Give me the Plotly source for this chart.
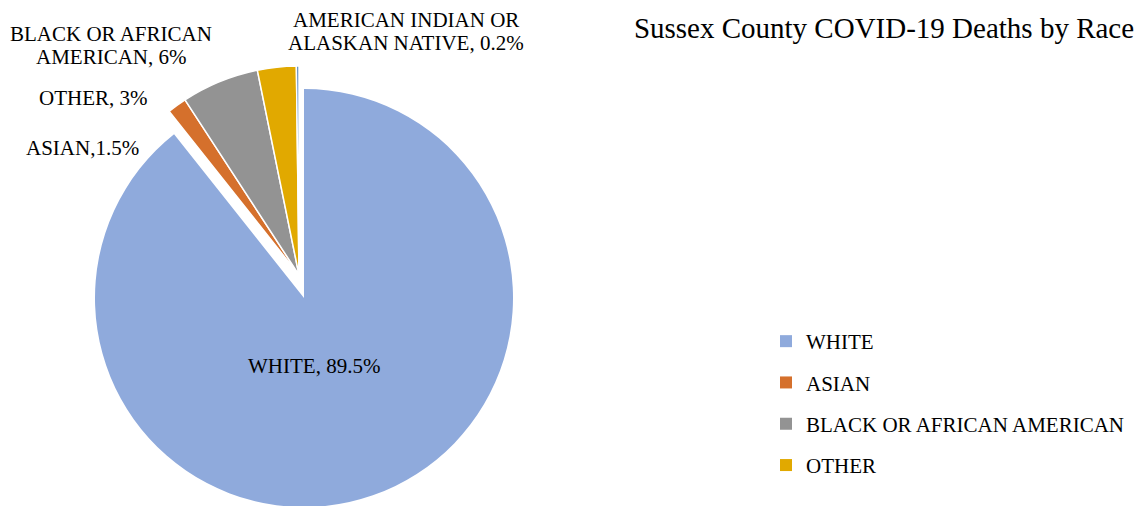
import plotly.graph_objects as go

# ---- data ----
labels = ["WHITE", "ASIAN", "BLACK OR AFRICAN AMERICAN", "OTHER",
          "AMERICAN INDIAN OR ALASKAN NATIVE"]
values = [89.5, 1.5, 6, 3, 0.2]
colors = ["#8FAADC", "#D5702C", "#939393", "#E1A900", "#4F81BD"]
legend_labels = ["WHITE", "ASIAN", "BLACK OR AFRICAN AMERICAN", "OTHER"]
title_text = "Sussex County COVID-19 Deaths by Race"
slice_texts = ["WHITE, 89.5%", "ASIAN,1.5%", "BLACK OR AFRICAN<br>AMERICAN, 6%",
               "OTHER, 3%", "AMERICAN INDIAN OR<br>ALASKAN NATIVE, 0.2%"]

W, H = 1147, 506
OFF = 8  # page body margin
FONT = "Liberation Serif, Times New Roman, serif"
clear = "rgba(0,0,0,0)"


def px(x):
    return (x - OFF) / W


def py(y):
    return 1 - (y - OFF) / H


def dom(cx, cy, r):
    return dict(x=[px(cx - r), px(cx + r)], y=[py(cy + r), py(cy - r)])


fig = go.Figure()

# main (large) slice
fig.add_trace(go.Pie(
    labels=labels, values=values, sort=False, direction="clockwise", rotation=0,
    marker=dict(colors=[colors[0]] + [clear] * 4, line=dict(width=0)),
    textinfo="none", hoverinfo="label+percent", showlegend=False,
    domain=dom(304, 298, 209),
))
# exploded small slices
fig.add_trace(go.Pie(
    labels=labels, values=values, sort=False, direction="clockwise", rotation=0,
    marker=dict(colors=[clear] + colors[1:],
                line=dict(color=[clear] + ["white"] * 4, width=1.5)),
    textinfo="none", hoverinfo="label+percent", showlegend=False,
    domain=dom(299, 275, 209),
))

# legend entries
for i, lab in enumerate(legend_labels):
    fig.add_trace(go.Scatter(
        x=[None], y=[None], mode="markers", name=lab, legendgroup=lab,
        marker=dict(symbol="square", size=12, color=colors[i]),
    ))

# slice labels (one annotation per text line)
label_x = [314, 82, 111, 94, 406]
label_line_y = [[366], [148], [34, 57.5], [98], [20.5, 43]]
for x, ys, t in zip(label_x, label_line_y, slice_texts):
    for y, line in zip(ys, t.split("<br>")):
        fig.add_annotation(x=px(x), y=py(y), xref="paper", yref="paper",
                           text=line, showarrow=False, xanchor="center",
                           yanchor="middle", borderpad=0,
                           font=dict(family=FONT, size=21, color="#000000"))

fig.update_layout(
    width=W, height=H,
    margin=dict(l=0, r=0, t=0, b=0),
    paper_bgcolor="white", plot_bgcolor="white",
    title=dict(text=title_text, x=px(884), xanchor="center", y=py(28),
               yanchor="middle", yref="container",
               font=dict(family=FONT, size=29, color="#000000")),
    xaxis=dict(visible=False), yaxis=dict(visible=False),
    legend=dict(x=px(766), y=py(321), xanchor="left", yanchor="top",
                font=dict(family=FONT, size=21, color="#000000"),
                tracegroupgap=11, bgcolor=clear),
)

fig.write_html("out.html")
